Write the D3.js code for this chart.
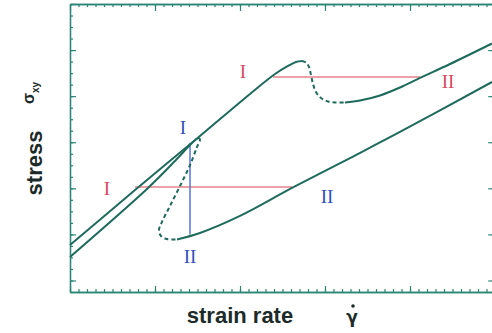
<!DOCTYPE html>
<html><head><meta charset="utf-8">
<script src="https://cdn.jsdelivr.net/npm/d3@7"></script>
<style>
html,body{margin:0;padding:0;background:#fff;}
svg{display:block;}
</style></head>
<body>
<svg id="chart" width="492" height="333"></svg>
<script>
// ---- data (x: strain rate units, y: stress units) ----
const curve1Solid1 = [[0,4.08],[0.765,8.85],[1.529,13.54],[2.118,17.19],[2.412,18.92],[2.565,19.62],[2.659,19.97],[2.729,20.05]];
const curve1Dashed = [[2.729,20.05],[2.776,19.92],[2.812,19.53],[2.835,18.84],[2.859,18.06],[2.894,17.36],[2.953,16.84],[3.035,16.54],[3.129,16.45],[3.235,16.45]];
const curve1Solid2 = [[3.235,16.45],[3.412,16.62],[3.647,17.06],[3.882,17.75],[4.118,18.58],[4.471,19.79],[4.965,21.57]];
const curve2Solid1 = [[0,3.04],[0.918,9.03],[1.235,11.37],[1.412,12.76],[1.494,13.3],[1.518,13.38]];
const curve2Dashed = [[1.518,13.38],[1.529,13.22],[1.494,12.59],[1.412,11.02],[1.294,9.20],[1.176,7.47],[1.082,6.08],[1.047,5.38],[1.071,4.86],[1.141,4.60],[1.259,4.56]];
const curve2Solid2 = [[1.259,4.56],[1.529,5.12],[2.0,6.60],[2.612,9.03],[3.294,11.63],[3.882,13.89],[4.965,18.23]];
// coexistence lines
const redLines = [{x1:0.765,x2:2.612,y:9.11},{x1:2.388,x2:4.118,y:18.66}];
const blueLines = [{x:1.412,y1:12.93,y2:4.99}];
// branch labels
const redLabels = [{t:"I",x:0.435,y:8.42},{t:"I",x:2.035,y:18.58},{t:"II",x:4.447,y:17.71}];
const blueLabels = [{t:"II",x:3.024,y:7.73},{t:"I",x:1.329,y:13.72},{t:"II",x:1.412,y:2.52}];
const xLabel = "strain rate";
const yLabel = "stress";

// ---- scales ----
const x = d3.scaleLinear().domain([0,5]).range([70,495]);
const y = d3.scaleLinear().domain([0,25]).range([292,4]);
const xMax = 4.95;

const svg = d3.select("#chart");
const teal = "#1e6b5c", axisCol = "#2b8474";

// axes
const xMinor = d3.range(0, 50).map(i=>i/10).filter(v=>v<=xMax);
const xMajor = [0,1,2,3,4];
const yMinor = d3.range(0, 26);
const yMajor = [1,5,9,13,17,21,25];
function ax(g){ g.selectAll("path.domain").attr("stroke",axisCol).attr("stroke-width",1.3);
  g.selectAll(".tick line").attr("stroke",axisCol).attr("stroke-width",1.2); }
svg.append("g").attr("transform",`translate(0,${y(0)})`)
  .call(d3.axisBottom(x).tickValues(xMinor).tickSize(-3).tickSizeOuter(0).tickFormat("")).call(ax);
svg.append("g").attr("transform",`translate(0,${y(0)})`)
  .call(d3.axisBottom(x).tickValues(xMajor).tickSize(-6).tickSizeOuter(0).tickFormat("")).call(ax);
svg.append("g").attr("transform",`translate(0,${y(25)})`)
  .call(d3.axisTop(x).tickValues(xMinor).tickSize(-3).tickSizeOuter(0).tickFormat("")).call(ax);
svg.append("g").attr("transform",`translate(0,${y(25)})`)
  .call(d3.axisTop(x).tickValues(xMajor).tickSize(-7).tickSizeOuter(0).tickFormat("")).call(ax);
svg.append("g").attr("transform",`translate(${x(0)},0)`)
  .call(d3.axisLeft(y).tickValues(yMinor).tickSize(-3).tickSizeOuter(0).tickFormat("")).call(ax);
svg.append("g").attr("transform",`translate(${x(0)},0)`)
  .call(d3.axisLeft(y).tickValues(yMajor).tickSize(-6).tickSizeOuter(0).tickFormat("")).call(ax);
svg.append("g").attr("transform",`translate(${x(xMax)+2.5},0)`)
  .call(d3.axisRight(y).tickValues(yMajor).tickSize(-5).tickSizeOuter(0).tickFormat("")).call(ax);

// coexistence lines
svg.selectAll("line.red").data(redLines).enter().append("line")
  .attr("x1",d=>x(d.x1)).attr("x2",d=>x(d.x2)).attr("y1",d=>y(d.y)).attr("y2",d=>y(d.y))
  .attr("stroke","#e8808a").attr("stroke-width",1.6);
svg.selectAll("line.blue").data(blueLines).enter().append("line")
  .attr("x1",d=>x(d.x)).attr("x2",d=>x(d.x)).attr("y1",d=>y(d.y1)).attr("y2",d=>y(d.y2))
  .attr("stroke","#5577d8").attr("stroke-width",1.5);

// curves
const line = d3.line().x(d=>x(d[0])).y(d=>y(d[1])).curve(d3.curveCatmullRom.alpha(0.5));
[[curve1Solid1,false],[curve1Dashed,true],[curve1Solid2,false],[curve2Solid1,false],[curve2Dashed,true],[curve2Solid2,false]]
  .forEach(([pts,dash])=>{
    svg.append("path").attr("d",line(pts)).attr("fill","none").attr("stroke",teal)
      .attr("stroke-width",2).attr("stroke-dasharray",dash?"4,3":null);
  });

// labels
svg.selectAll("text.rl").data(redLabels).enter().append("text")
  .attr("x",d=>x(d.x)).attr("y",d=>y(d.y)).attr("text-anchor","middle")
  .attr("font-family","Liberation Serif, serif").attr("font-size",19).attr("fill","#d8485e").text(d=>d.t);
svg.selectAll("text.bl").data(blueLabels).enter().append("text")
  .attr("x",d=>x(d.x)).attr("y",d=>y(d.y)).attr("text-anchor","middle")
  .attr("font-family","Liberation Serif, serif").attr("font-size",19).attr("fill","#2f52c0").text(d=>d.t);

// axis titles
svg.append("text").attr("x",240).attr("y",323).attr("text-anchor","middle")
  .attr("font-family","Liberation Sans, Arial, sans-serif").attr("font-weight","bold").attr("font-size",22)
  .attr("fill","#1c2b29").text(xLabel);
const gam = svg.append("g").attr("fill","#1c2b29");
gam.append("text").attr("x",352).attr("y",323).attr("text-anchor","middle")
  .attr("font-family","DejaVu Sans, sans-serif").attr("font-weight","bold").attr("font-size",17).text("γ");
gam.append("circle").attr("cx",353).attr("cy",306).attr("r",1.8);

svg.append("text").attr("transform","translate(42,163) rotate(-90)").attr("text-anchor","middle")
  .attr("font-family","Liberation Sans, Arial, sans-serif").attr("font-weight","bold").attr("font-size",22)
  .attr("fill","#1c2b29").text(yLabel);
const sig = svg.append("text").attr("transform","translate(34,104) rotate(-90)")
  .attr("font-family","Liberation Sans, Arial, sans-serif").attr("font-weight","bold").attr("font-size",16).attr("fill","#1c2b29");
sig.append("tspan").text("σ");
sig.append("tspan").attr("dy",5).attr("font-size",10).text("xy");
</script>
</body></html>
